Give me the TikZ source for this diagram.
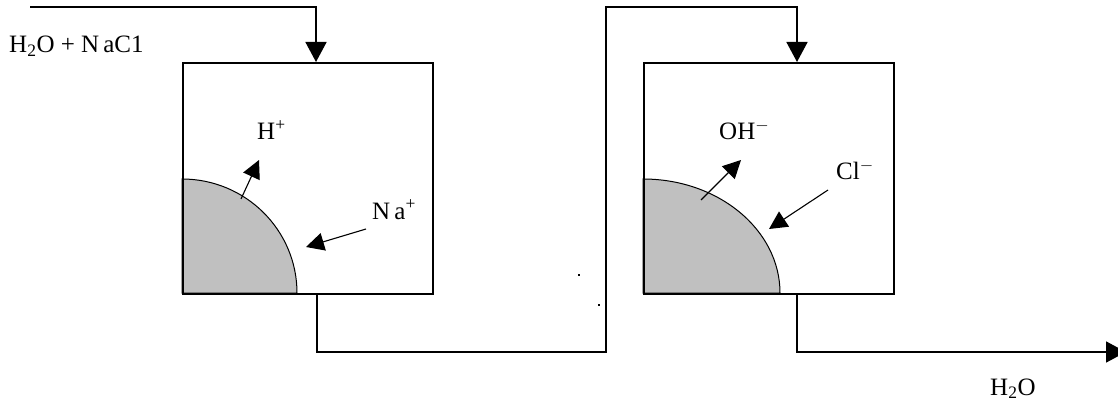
\documentclass[tikz,border=0pt]{standalone}
\usepackage{fontspec}
\setmainfont{Liberation Serif}
\usetikzlibrary{arrows.meta}
\definecolor{zone}{HTML}{C0C0C0}
\begin{document}
\begin{tikzpicture}[x=1pt,y=-1pt,
  pipe/.style={line width=1.6pt},
  feed/.style={pipe,-{Triangle[length=20pt,width=21pt]}},
  ion/.style={line width=1.1pt,-{Triangle[length=18pt,width=18pt]}},
  lbl/.style={font=\fontsize{25}{29}\selectfont, inner sep=0pt, anchor=base west},
  tank/.style={draw, line width=1.6pt, minimum width=250pt, minimum height=231pt, inner sep=0pt, anchor=north west},
  zonefill/.style={fill=zone, draw=black, line width=1pt}]
\useasboundingbox (0,0) rectangle (1118,406);
% grey zones
\filldraw[zonefill] (182,293) -- (182,179) arc[start angle=270, end angle=360, x radius=115, y radius=114] -- cycle;
\filldraw[zonefill] (643,293) -- (643,179) arc[start angle=270, end angle=360, x radius=137, y radius=114] -- cycle;
% tanks
\node[tank] (t1) at (182,62) {};
\node[tank] (t2) at (643,62) {};
% pipe coordinates
\coordinate (in) at (30,7);
\coordinate (t1in) at (316,62);
\coordinate (t1out) at (317,293);
\coordinate (c1) at (606,352);
\coordinate (c2) at (606,7);
\coordinate (t2in) at (797,62);
\coordinate (t2out) at (797,293);
\coordinate (out) at (1126,352);
\draw[feed] (in) -| (t1in);
\draw[feed] (t1out) |- (c1) -- (c2) -| (t2in);
\draw[feed] (t2out) |- (out);
% labels
\node[lbl] (feedlbl) at (9,53) {H\textsubscript{2}O + N\,aC1};
\node[lbl] (outlbl) at (990,395) {H\textsubscript{2}O};
\node[lbl] (hlbl) at (257,140) {H\textsuperscript{+}};
\node[lbl] (nalbl) at (372,219) {N\,a\textsuperscript{+}};
\node[lbl] (ohlbl) at (719,140) {OH\textsuperscript{$-$}};
\node[lbl] (cllbl) at (836,180) {Cl\textsuperscript{$-$}};
% ion arrows
\coordinate (ha) at (241,199);
\coordinate (hb) at (259,160);
\coordinate (naa) at (366,229);
\coordinate (nab) at (306,247);
\coordinate (oha) at (701,200);
\coordinate (ohb) at (741,160);
\coordinate (cla) at (828,190);
\coordinate (clb) at (769,229);
\draw[ion] (ha) -- (hb);
\draw[ion] (naa) -- (nab);
\draw[ion] (oha) -- (ohb);
\draw[ion] (cla) -- (clb);
% stray dots
\fill (578,274) rectangle (580,276);
\fill (598,304) rectangle (600,306);
\end{tikzpicture}
\end{document}
